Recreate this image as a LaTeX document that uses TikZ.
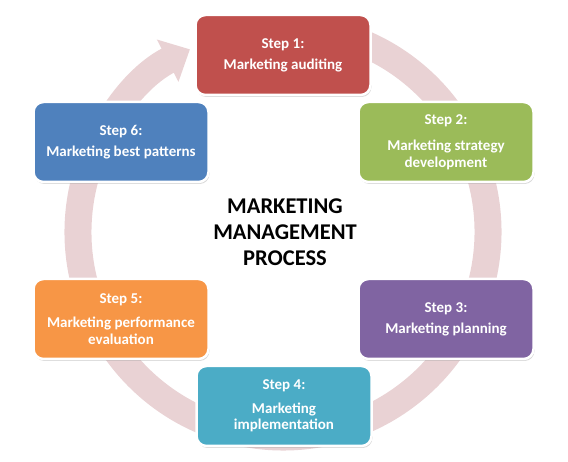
\documentclass[tikz,border=0pt]{standalone}
\usepackage{fontspec}
\setmainfont{Carlito}
\usetikzlibrary{arrows.meta,shadows}
\definecolor{ringpink}{RGB}{233,210,212}
\definecolor{redstep}{RGB}{192,80,77}
\definecolor{greenstep}{RGB}{155,187,89}
\definecolor{purplestep}{RGB}{128,100,162}
\definecolor{tealstep}{RGB}{75,172,198}
\definecolor{orangestep}{RGB}{247,150,70}
\definecolor{bluestep}{RGB}{79,129,189}

\begin{document}
\begin{tikzpicture}[x=1pt,y=1pt,
    stepbox/.style={rounded corners=10pt, draw=white, line width=2.5pt,
        minimum width=175pt, minimum height=80pt, align=center,
        text=white, font=\bfseries\fontsize{15}{21}\selectfont,
        drop shadow={shadow xshift=1pt, shadow yshift=-2pt, opacity=.3}},
    title/.style={align=center, font=\bfseries\fontsize{22.5}{26}\selectfont}]
    \useasboundingbox (0,0) rectangle (568,462);

    % the cycle behind the steps
    \coordinate (c) at (283,230);
    \draw[ringpink, line width=27pt, -{Triangle[width=46pt,length=25pt]}]
        (c) ++(80:205) arc[start angle=80, end angle=-243, radius=205];

\node[stepbox, fill=redstep]    (s1) at (283,407) {Step 1:\\Marketing auditing};
\node[stepbox, fill=greenstep]  (s2) at (446,320) {Step 2:\\[5pt]Marketing strategy\\[-4pt]development};
\node[stepbox, fill=purplestep] (s3) at (446,143) {Step 3:\\Marketing planning};
\node[stepbox, fill=tealstep]   (s4) at (284,56)  {Step 4:\\[3pt]Marketing\\[-5pt]implementation};
\node[stepbox, fill=orangestep] (s5) at (121,143) {Step 5:\\[3pt]Marketing performance\\[-4pt]evaluation};
\node[stepbox, fill=bluestep]   (s6) at (121,320) {Step 6:\\Marketing best patterns};

\node[title] (mmp) at (285,230) {MARKETING\\MANAGEMENT\\PROCESS};

\end{tikzpicture}
\end{document}
